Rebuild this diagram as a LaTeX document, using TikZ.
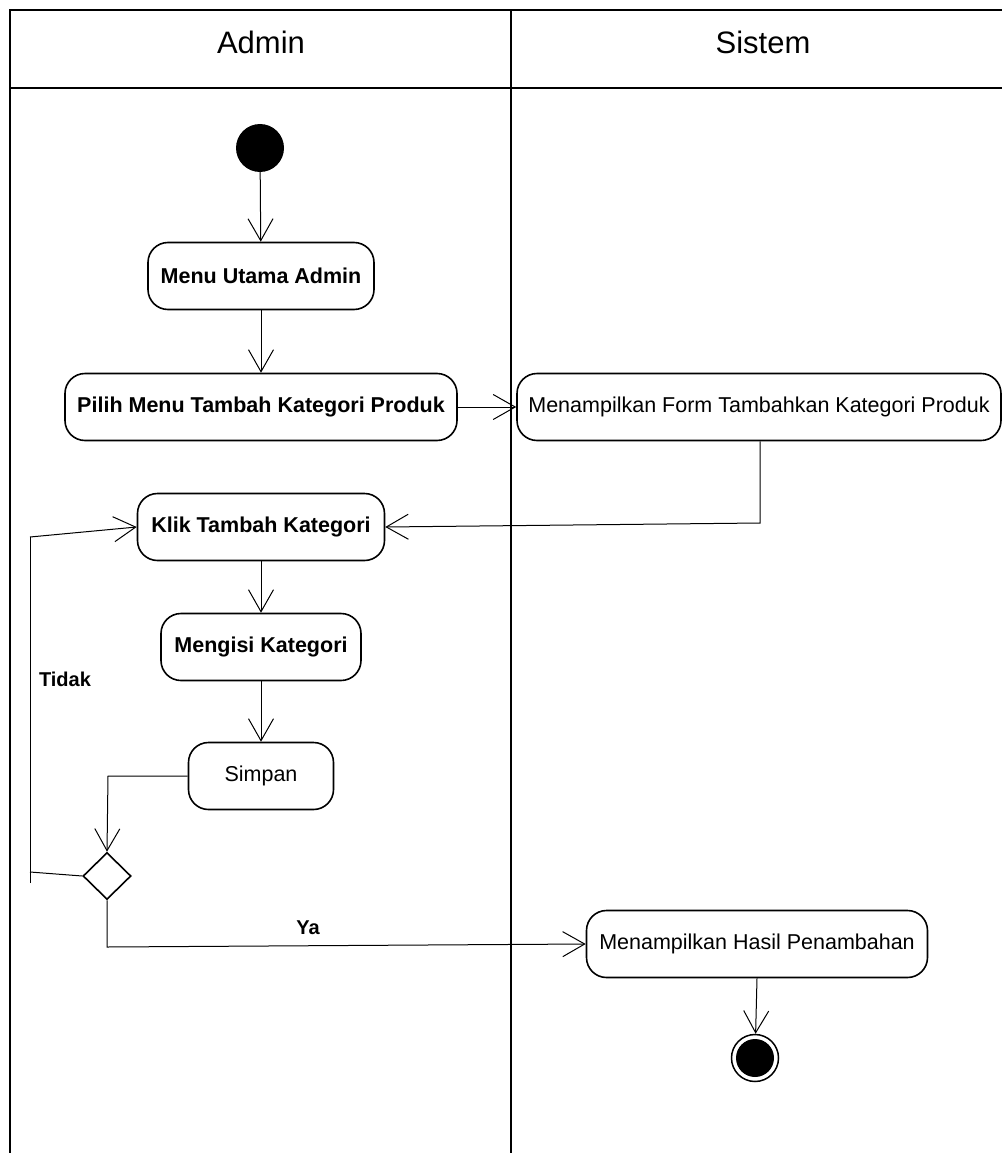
\documentclass[tikz,border=0pt]{standalone}
\usepackage{fontspec}
\setmainfont{Liberation Sans}
\usetikzlibrary{arrows.meta,shapes.geometric}
\begin{document}
\begin{tikzpicture}[x=1pt,y=-1pt,
  lane/.style={line width=1.8pt},
  act/.style={draw, line width=1.6pt, rounded corners=20pt, minimum height=67pt,
    inner sep=0pt, align=center, font=\fontsize{21.5}{25}\selectfont\bfseries},
  actr/.style={act, font=\fontsize{21.5}{25}\selectfont},
  flow/.style={line width=1pt, -{Straight Barb[length=22pt,width=25pt,line width=1pt]}},
  guard/.style={font=\fontsize{20}{24}\selectfont\bfseries},
  header/.style={font=\fontsize{31}{35}\selectfont}]
\useasboundingbox (0,0) rectangle (1002,1153);
\fill[white] (0,0) rectangle (1002,1153);

% swimlanes
\draw[lane] (10,1153) -- (10,10) -- (1002,10);
\draw[lane] (10,88) -- (1002,88);
\draw[lane] (511,10) -- (511,1153);
\node[header] (hadmin) at (261,42) {Admin};
\node[header] (hsistem) at (763,42) {Sistem};

% nodes
\node[circle, fill=black, minimum size=48pt, inner sep=0pt] (start) at (260,148) {};
\node[act, minimum width=226pt] (menu) at (261,276) {Menu Utama Admin};
\node[act, minimum width=392pt] (pilih) at (261,407) {Pilih Menu Tambah Kategori Produk};
\node[actr, minimum width=484pt] (form) at (759,407) {Menampilkan Form Tambahkan Kategori Produk};
\node[act, minimum width=247pt] (klik) at (261,527) {Klik Tambah Kategori};
\node[act, minimum width=200pt] (isi) at (261,647) {Mengisi Kategori};
\node[actr, minimum width=145pt] (simpan) at (261,776) {Simpan};
\node[diamond, draw, line width=1.6pt, minimum width=48pt, minimum height=47pt,
  inner sep=0pt] (dec) at (107,876) {};
\node[actr, minimum width=341pt] (hasil) at (757,944) {Menampilkan Hasil Penambahan};
\node[circle, draw, line width=1.5pt, minimum size=47pt, inner sep=0pt,
  path picture={\fill[black] (path picture bounding box.center) circle (19pt);}]
  (end) at (755,1058) {};

% flows
\draw[flow] (start) -- (menu);
\draw[flow] (menu) -- (pilih);
\draw[flow] (pilih) -- (form);
\coordinate (f1) at (760,523);
\draw[flow] (form.south -| f1) -- (f1) -- (klik.east);
\draw[flow] (klik) -- (isi);
\draw[flow] (isi) -- (simpan);
\coordinate (s1) at (108,776);
\draw[flow] (simpan.west) -- (s1) -- (dec.north);

% Tidak branch
\coordinate (t1) at (30,872);
\coordinate (t2) at (30,537);
\coordinate (t3) at (30,883);
\draw[line width=1pt] (dec.west) -- (t1);
\draw[line width=1pt] (t3) -- (t2);
\draw[flow] (t2) -- (klik.west);
\node[guard] (ltidak) at (65,679) {Tidak};

% Ya branch
\coordinate (y1) at (107,947);
\draw[flow] (dec.south) -- (y1) -- (hasil.west);
\node[guard] (lya) at (308,928) {Ya};

\draw[flow] (hasil.south) -- (end);
\end{tikzpicture}
\end{document}
